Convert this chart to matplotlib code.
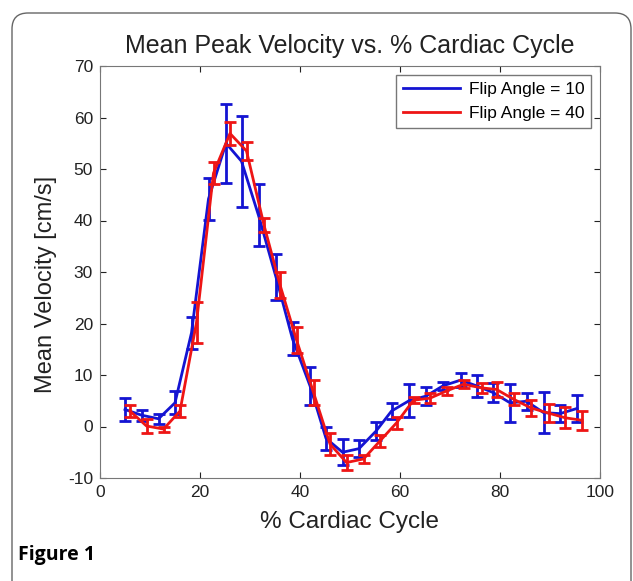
import numpy as np
import matplotlib
matplotlib.use("Agg")
import matplotlib.pyplot as plt
from matplotlib.patches import FancyBboxPatch
from matplotlib.transforms import IdentityTransform

# % cardiac cycle sample positions
x_fa10 = [5.0, 8.3, 11.7, 15.0, 18.3, 21.7, 25.2, 28.3, 31.7, 35.2, 38.5, 42.0, 45.2, 48.5,
          51.8, 55.2, 58.3, 61.8, 65.2, 68.6, 72.1, 75.3, 78.6, 82.0, 85.3, 88.7, 92.0, 95.4]
x_fa40 = [6.0, 9.3, 12.7, 16.0, 19.3, 22.7, 26.0, 29.3, 32.8, 36.0, 39.3, 42.7, 46.0, 49.3,
          52.7, 56.0, 59.3, 62.7, 66.0, 69.3, 72.7, 76.3, 79.3, 82.7, 86.2, 89.7, 93.0, 96.4]

# mean velocity [cm/s] and error
v_fa10 = [3.3, 2.2, 1.5, 4.6, 18.2, 44.2, 55.0, 51.5, 41.0, 29.0, 17.0, 7.9, -2.3, -5.0,
          -4.3, -0.9, 3.0, 5.0, 5.9, 7.9, 9.0, 7.9, 6.6, 4.6, 4.9, 2.7, 2.5, 3.5]
e_fa10 = [2.3, 1.1, 1.0, 2.2, 3.1, 4.1, 7.7, 8.8, 6.0, 4.4, 3.2, 3.7, 2.3, 2.5,
          1.6, 1.7, 1.5, 3.2, 1.7, 0.8, 1.3, 2.1, 1.8, 3.7, 1.6, 4.0, 1.7, 2.6]
v_fa40 = [3.0, 0.1, -0.5, 3.0, 20.2, 49.2, 56.9, 53.5, 39.1, 27.5, 16.8, 6.6, -3.4, -7.0,
          -6.3, -2.8, 0.7, 5.1, 5.5, 6.9, 8.2, 7.5, 7.2, 5.3, 3.6, 2.6, 1.7, 1.2]
e_fa40 = [1.1, 1.4, 0.5, 1.2, 4.0, 2.2, 2.2, 1.8, 1.4, 2.5, 2.5, 2.5, 2.1, 1.4,
          0.8, 1.1, 1.2, 0.6, 1.0, 0.8, 0.8, 1.0, 1.4, 1.2, 1.5, 1.7, 2.0, 1.8]

plt.rcParams['font.family'] = ['Liberation Sans', 'DejaVu Sans']
plt.rcParams['axes.unicode_minus'] = False

fig = plt.figure(figsize=(6.33, 5.81), dpi=100)

# rounded frame around the figure
frame = FancyBboxPatch((12, -40), 619, 608, boxstyle="round,pad=0,rounding_size=16",
                       transform=IdentityTransform(), fill=False, edgecolor='#666666',
                       linewidth=1.0, clip_on=False)
fig.patches.append(frame)

ax = fig.add_axes([100 / 633, 103 / 581, 500 / 633, 412 / 581])

ax.errorbar(x_fa10, v_fa10, yerr=e_fa10, color='#1414d2', linewidth=2, elinewidth=2,
            capsize=4, capthick=2, label='Flip Angle = 10', zorder=3)
ax.errorbar(x_fa40, v_fa40, yerr=e_fa40, color='#ee1515', linewidth=2, elinewidth=2,
            capsize=4, capthick=2, label='Flip Angle = 40', zorder=4)

ax.set_xlim(0, 100)
ax.set_ylim(-10, 70)
ax.set_xticks(np.arange(0, 101, 20))
ax.set_yticks(np.arange(-10, 71, 10))
ax.tick_params(direction='in', length=4, labelsize=12.5, colors='#222222', top=True, right=True,
               pad=5)
for s in ax.spines.values():
    s.set_color('#777777')

ax.set_title('Mean Peak Velocity vs. % Cardiac Cycle', fontsize=18, pad=9, color='#222222')
ax.set_xlabel('% Cardiac Cycle', fontsize=17.5, color='#222222', labelpad=8)
ax.set_ylabel('Mean Velocity [cm/s]', fontsize=17, color='#222222')
ax.yaxis.set_label_coords(-0.085, 0.47)

handles, labels = ax.get_legend_handles_labels()
handles = [h[0] for h in handles]
leg = ax.legend(handles, labels, loc='upper right', fontsize=12.5, frameon=True, fancybox=False,
                edgecolor='#555555', handlelength=3.3, handletextpad=0.5, labelspacing=0.55,
                borderpad=0.4, borderaxespad=0.5)
leg.get_frame().set_linewidth(1.0)

fig.text(18 / 633, 1 - 555 / 581, 'Figure 1', fontsize=14, fontweight='bold',
         family=['Open Sans', 'DejaVu Sans'], va='center', ha='left')

fig.savefig('out.png', dpi=100)
